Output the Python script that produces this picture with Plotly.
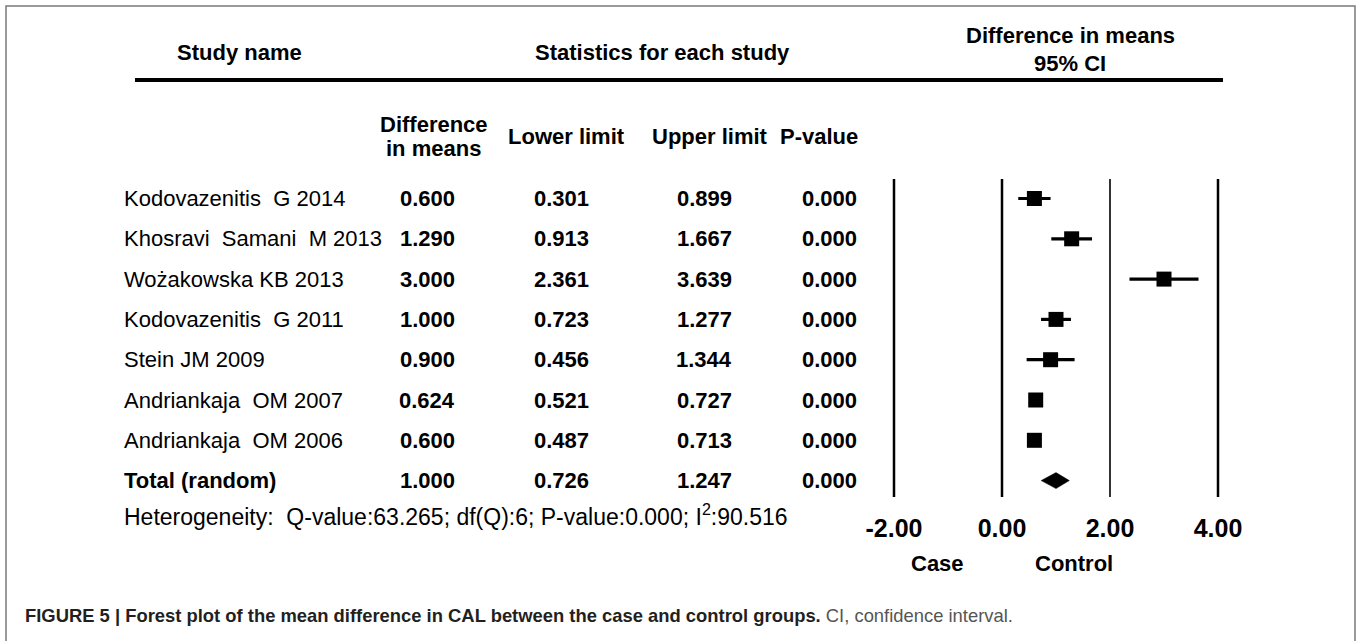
import plotly.graph_objects as go

# ---------------- data ----------------
studies = ["Kodovazenitis  G 2014", "Khosravi  Samani  M 2013", "Wożakowska KB 2013",
           "Kodovazenitis  G 2011", "Stein JM 2009", "Andriankaja  OM 2007",
           "Andriankaja  OM 2006"]
diff = [0.600, 1.290, 3.000, 1.000, 0.900, 0.624, 0.600]
lower = [0.301, 0.913, 2.361, 0.723, 0.456, 0.521, 0.487]
upper = [0.899, 1.667, 3.639, 1.277, 1.344, 0.727, 0.713]
pvals = [0.000, 0.000, 0.000, 0.000, 0.000, 0.000, 0.000]

total_label = "Total (random)"
total_diff = 1.000
total_lower = 0.726
total_upper = 1.247
total_p = 0.000

tick_vals = [-2, 0, 2, 4]
tick_text = ["-2.00", "0.00", "2.00", "4.00"]

heterogeneity = "Heterogeneity:  Q-value:63.265; df(Q):6; P-value:0.000; I<sup>2</sup>:90.516"
caption_bold = "FIGURE 5 | Forest plot of the mean difference in CAL between the case and control groups."
caption_rest = " CI, confidence interval."

# ---------------- layout geometry ----------------
W, H = 1357, 641
B = 130                      # bottom margin (tick labels live below plot area)
PH = H - B                   # plot-area height
ROW0, ROWSTEP = 198.5, 40.3  # pixel y of first row and row spacing
X_M2, PXU = 894.0, 54.0      # pixel x of -2 and pixels per unit

FONT = "Liberation Sans, Arial, Helvetica, sans-serif"


def px(x):
    return x / W


def py(y):
    return 1 - y / PH


xrange_ = [-2 - X_M2 / PXU, -2 + (W - X_M2) / PXU]
yrange_ = [(PH - ROW0) / ROWSTEP, -ROW0 / ROWSTEP]

n = len(studies)
rows = list(range(n))
total_row = n

fig = go.Figure()

# study squares with CI whiskers
fig.add_trace(go.Scatter(
    x=diff, y=rows, mode="markers",
    marker=dict(symbol="square", size=15, color="black"),
    error_x=dict(type="data", symmetric=False,
                 array=[u - d for u, d in zip(upper, diff)],
                 arrayminus=[d - l for d, l in zip(diff, lower)],
                 color="black", thickness=3.2, width=0),
    showlegend=False, hoverinfo="skip"))

# summary diamond
h = 8.0 / ROWSTEP
fig.add_trace(go.Scatter(
    x=[total_lower, total_diff, total_upper, total_diff, total_lower],
    y=[total_row, total_row - h, total_row, total_row + h, total_row],
    mode="lines", fill="toself", fillcolor="black",
    line=dict(color="black", width=0.5),
    showlegend=False, hoverinfo="skip"))

shapes = []
# outer frame
shapes.append(dict(type="rect", xref="paper", yref="paper",
                   x0=px(6), x1=px(1355), y0=py(6), y1=py(H + 20),
                   line=dict(color="#7a7a7a", width=1.5), fillcolor="rgba(0,0,0,0)",
                   layer="below"))
# header rule
shapes.append(dict(type="line", xref="paper", yref="paper",
                   x0=px(135), x1=px(1223), y0=py(80), y1=py(80),
                   line=dict(color="black", width=4)))
# vertical reference lines
line_widths = {-2: 2.5, 0: 2.5, 2: 1.6, 4: 2.5}
y_top = (179 - ROW0) / ROWSTEP
y_bot = (497 - ROW0) / ROWSTEP
for t in tick_vals:
    shapes.append(dict(type="line", xref="x", yref="y", x0=t, x1=t,
                       y0=y_top, y1=y_bot,
                       line=dict(color="black", width=line_widths[t])))

ann = []


def add(text, x, y, size=22, xanchor="center", yref="paper", color="black"):
    ann.append(dict(text=text, x=x, y=y, xref="paper", yref=yref,
                    xanchor=xanchor, yanchor="middle", showarrow=False,
                    font=dict(family=FONT, size=size, color=color)))


# headers
add("<b>Study name</b>", px(239), py(53))
add("<b>Statistics for each study</b>", px(662), py(53))
add("<b>Difference in means</b>", px(1070), py(35))
add("<b>95% CI</b>", px(1070), py(63))
add("<b>Difference</b>", px(434), py(125))
add("<b>in means</b>", px(434), py(148))
add("<b>Lower limit</b>", px(566), py(136))
add("<b>Upper limit</b>", px(710), py(136))
add("<b>P-value</b>", px(819), py(136))

COLS = [427, 561, 704, 829]
for i in rows:
    add(studies[i], px(122), i, xanchor="left", yref="y")
    for c, v in zip(COLS, [diff[i], lower[i], upper[i], pvals[i]]):
        add(f"<b>{v:.3f}</b>", px(c), i, yref="y")
add(f"<b>{total_label}</b>", px(122), total_row, xanchor="left", yref="y")
for c, v in zip(COLS, [total_diff, total_lower, total_upper, total_p]):
    add(f"<b>{v:.3f}</b>", px(c), total_row, yref="y")

add(heterogeneity, px(122), py(515), size=23, xanchor="left")

# favours labels
add("<b>Case</b>", px(937), py(563))
add("<b>Control</b>", px(1074), py(563))

# caption
add(f"<b>{caption_bold}</b><span style='color:#555555'>{caption_rest}</span>",
    px(23), py(615), size=18.4, xanchor="left", color="#231f20")

fig.update_layout(
    width=W, height=H,
    margin=dict(l=0, r=0, t=0, b=B, pad=0),
    paper_bgcolor="white", plot_bgcolor="white",
    shapes=shapes, annotations=ann,
    xaxis=dict(range=xrange_, showgrid=False, zeroline=False, showline=False,
               tickmode="array", tickvals=tick_vals, ticktext=tick_text,
               ticks="", tickfont=dict(family=FONT, size=25, color="black", weight="bold"),
               fixedrange=True),
    yaxis=dict(range=yrange_, showgrid=False, zeroline=False, showline=False,
               showticklabels=False, fixedrange=True),
    showlegend=False,
)

fig.write_html("out.html", config={"displayModeBar": False},
               post_script="document.body.style.margin='0';document.body.style.overflow='hidden';")
